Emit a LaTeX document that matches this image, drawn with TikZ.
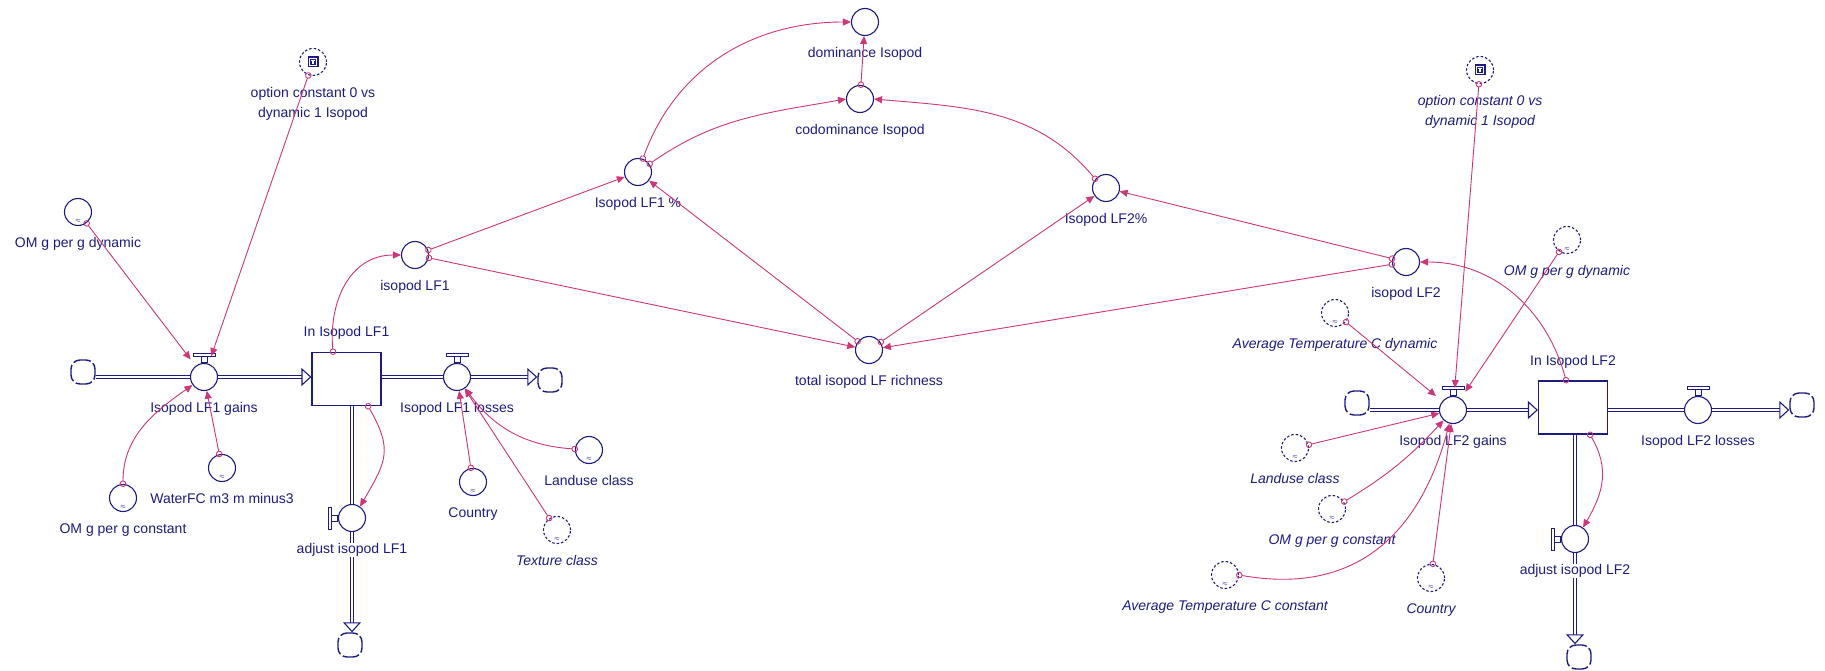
\documentclass[tikz,border=0pt]{standalone}
\usepackage{fontspec}
\setmainfont{Liberation Sans}
\usepackage{xcolor}
\usetikzlibrary{arrows.meta}
\definecolor{navy}{RGB}{28,28,128}
\definecolor{linkc}{RGB}{205,55,120}

\begin{document}
\begin{tikzpicture}[x=1pt, y=1pt,
  conv/.style={circle, draw=navy, line width=1.1pt, fill=white, minimum size=27pt, inner sep=0pt},
  ghost/.style={conv, dash pattern=on 2.5pt off 2pt},
  gf/.style={path picture={\node[font=\fontsize{6}{6}\selectfont, text=navy, inner sep=0pt] at ([yshift=4.5pt]path picture bounding box.south) {$\approx$};}},
  opt/.style={ghost, path picture={\begin{scope}[shift={(path picture bounding box.center)}]
      \fill[navy] (-5.5,-5.5) rectangle (5.5,5.5); \fill[white] (-4,-4) rectangle (4,4);
      \fill[navy] (-3,-3) rectangle (3,3); \fill[white] (-2,0.8) rectangle (2,2); \fill[white] (-0.6,-2) rectangle (0.6,2);
    \end{scope}}},
  stock/.style={rectangle, draw=navy, line width=1.1pt, fill=white, minimum width=69pt, minimum height=53pt},
  cloudn/.style={rectangle, rounded corners=9pt, draw=navy, line width=1.4pt, minimum size=24pt, inner sep=0pt, dash pattern=on 17pt off 2.8pt, dash phase=4pt},
  pipe/.style={draw=navy, line width=1.1pt, double=white, double distance=2.4pt},
  flow/.style={pipe, -{Triangle[open, length=10pt, width=18pt, line width=1.1pt, fill=white]}},
  handle/.style={draw=navy, line width=1pt, fill=white},
  link/.style={draw=linkc, line width=0.9pt, {Circle[open, length=6.5pt, line width=0.9pt]}-{Triangle[length=8pt, width=7pt]}, shorten <=-3pt},
  lbl/.style={font=\fontsize{14}{20}\selectfont, text=navy, inner sep=0pt, align=center},
  lblit/.style={lbl, font=\fontsize{14}{20}\selectfont\itshape},
  label distance=11pt]
\useasboundingbox (0,0) rectangle (1825,670);
\fill[white] (0,0) rectangle (1825,670);

% isopod LF1 sector
\node[cloudn] (srcA) at (83,298) {};
\node[conv, label={[lbl]below:Isopod LF1 gains}] (gainsA) at (204,293) {};
\node[stock, label={[lbl, label distance=12pt]above:In Isopod LF1}] (stockA) at (346.5,291) {};
\node[conv, label={[lbl]below:Isopod LF1 losses}] (lossA) at (457,293) {};
\node[cloudn] (sinkA) at (550,290) {};
\node[conv, label={[lbl, name=adjAl]below:adjust isopod LF1}] (adjA) at (352,152) {};
\node[cloudn] (drainA) at (350,25) {};
\node[opt, label={[lbl]below:option constant 0 vs\\dynamic 1 Isopod}] (optA) at (313,608) {};
\node[conv, gf, label={[lbl]below:OM g per g dynamic}] (omdynA) at (78,458) {};
\node[conv, label={[lbl]below:isopod LF1}] (isoA) at (415,415) {};
\node[conv, gf, label={[lbl]below:WaterFC m3 m minus3}] (waterA) at (222,202) {};
\node[conv, gf, label={[lbl]below:OM g per g constant}] (omconA) at (123,172) {};
\node[conv, gf, label={[lbl]below:Country}] (ctryA) at (473,188) {};
\node[conv, gf, label={[lbl]below:Landuse class}] (landA) at (589,220) {};
\node[ghost, gf, label={[lblit]below:Texture class}] (textA) at (557,140) {};

% shares and richness
\node[conv, label={[lbl]below:Isopod LF1 \%}] (pctA) at (638,498) {};
\node[conv, label={[lbl]below:dominance Isopod}] (domi) at (865,648) {};
\node[conv, label={[lbl]below:codominance Isopod}] (codomi) at (860,571) {};
\node[conv, label={[lbl]below:Isopod LF2\%}] (pctB) at (1106,482) {};
\node[conv, label={[lbl]below:total isopod LF richness}] (total) at (869,320) {};

% isopod LF2 sector
\node[opt, label={[lblit]below:option constant 0 vs\\dynamic 1 Isopod}] (optB) at (1480,600) {};
\node[conv, label={[lbl]below:isopod LF2}] (isoB) at (1406,408) {};
\node[ghost, gf, label={[lblit]below:OM g per g dynamic}] (omdynB) at (1567,430) {};
\node[ghost, gf, label={[lblit]below:Average Temperature C dynamic}] (tdynB) at (1335,357) {};
\node[cloudn] (srcB) at (1357,267) {};
\node[conv, label={[lbl]below:Isopod LF2 gains}] (gainsB) at (1453,260) {};
\node[stock, label={[lbl, label distance=12pt]above:In Isopod LF2}] (stockB) at (1573,262.5) {};
\node[conv, label={[lbl]below:Isopod LF2 losses}] (lossB) at (1698,260) {};
\node[cloudn] (sinkB) at (1802,265) {};
\node[ghost, gf, label={[lblit]below:Landuse class}] (landB) at (1295,222) {};
\node[ghost, gf, label={[lblit]below:OM g per g constant}] (omconB) at (1332,161) {};
\node[ghost, gf, label={[lblit]below:Average Temperature C constant}] (tconB) at (1225,95) {};
\node[ghost, gf, label={[lblit]below:Country}] (ctryB) at (1431,92) {};
\node[conv, label={[lbl, name=adjBl]below:adjust isopod LF2}] (adjB) at (1575,131) {};
\node[cloudn] (drainB) at (1579,13) {};

% valve handles
\foreach \v in {gainsA,lossA,gainsB,lossB}{
  \draw[handle] ([xshift=-3pt]\v.north) rectangle ([xshift=3pt,yshift=6pt]\v.north);
  \draw[handle] ([xshift=-11pt,yshift=6pt]\v.north) rectangle ([xshift=11pt,yshift=9pt]\v.north);
}
\foreach \v in {adjA,adjB}{
  \draw[handle] ([yshift=-3pt]\v.west) rectangle ([xshift=-6pt,yshift=3pt]\v.west);
  \draw[handle] ([xshift=-6pt,yshift=-11pt]\v.west) rectangle ([xshift=-9pt,yshift=11pt]\v.west);
}

% flows
\draw[pipe] (srcA.east |- gainsA) -- (gainsA);
\draw[flow] (gainsA) -- (stockA.west |- gainsA);
\draw[pipe] (stockA.east |- lossA) -- (lossA);
\draw[flow] (lossA) -- (sinkA.west |- lossA);
\draw[pipe] (stockA.south -| adjA) -- (adjA);
\draw[pipe] (adjA) -- (adjAl);
\draw[flow] (adjAl) -- (drainA.north -| adjA);
\draw[pipe] (srcB.east |- gainsB) -- (gainsB);
\draw[flow] (gainsB) -- (stockB.west |- gainsB);
\draw[pipe] (stockB.east |- lossB) -- (lossB);
\draw[flow] (lossB) -- (sinkB.west |- lossB);
\draw[pipe] (stockB.south -| adjB) -- (adjB);
\draw[pipe] (adjB) -- (adjBl);
\draw[flow] (adjBl) -- (drainB.north -| adjB);

% connectors LF1
\draw[link, shorten >=8pt] (optA) -- (gainsA);
\draw[link, shorten >=8pt] (omdynA) -- (gainsA);
\draw[link] (omconA.north) to[out=90, in=215] (gainsA.215);
\draw[link] (waterA) -- (gainsA);
\draw[link] ([xshift=-13.5pt]stockA.north) to[out=95, in=180, looseness=1.1] (isoA.west);
\draw[link] ([xshift=21.5pt]stockA.south) to[out=-60, in=60, looseness=1.3] (adjA.55);
\draw[link] (ctryA) -- (lossA);
\draw[link] (landA) to[bend left=25] (lossA);
\draw[link] (textA) -- (lossA);
\draw[link] (isoA) -- (pctA);
\draw[link] (isoA) -- (total);

% connectors shares
\draw[link] (pctA.70) to[out=70, in=180] (domi.west);
\draw[link] (pctA.35) to[out=35, in=190] (codomi.west);
\draw[link] (codomi) -- (domi);
\draw[link] (pctB.140) to[out=130, in=-5] (codomi.east);
\draw[link] (total) -- (pctA);
\draw[link] (total) -- (pctB);
\draw[link] (isoB) -- (pctB);
\draw[link] (isoB) -- (total);

% connectors LF2
\draw[link] ([xshift=-7pt]stockB.north) to[out=105, in=0] (isoB.east);
\draw[link] ([xshift=17pt]stockB.south) to[out=-60, in=60, looseness=1.1] (adjB.55);
\draw[link, shorten >=8pt] (optB) -- (gainsB);
\draw[link, shorten >=8pt] (omdynB) -- (gainsB);
\draw[link, shorten >=8pt] (tdynB) -- (gainsB);
\draw[link] (landB) -- (gainsB);
\draw[link] (omconB) to[bend right=8] (gainsB);
\draw[link] (tconB.east) to[out=-10, in=255, looseness=1.15] (gainsB.255);
\draw[link] (ctryB) -- (gainsB);
\end{tikzpicture}
\end{document}
